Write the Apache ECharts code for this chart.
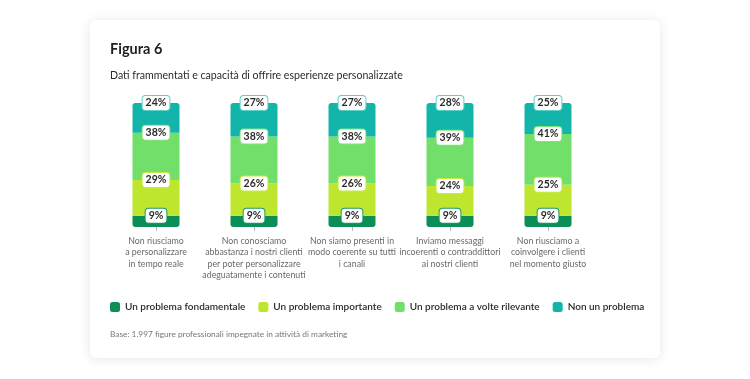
<!DOCTYPE html>
<html><head><meta charset="utf-8">
<script src="https://cdn.jsdelivr.net/npm/echarts@6/dist/echarts.min.js"></script>
<style>html,body{margin:0;padding:0;background:#fff;}#c{width:750px;height:379px;}</style>
</head><body><div id="c"></div>
<script>
const categories = [
  "Non riusciamo\na personalizzare\nin tempo reale",
  "Non conosciamo\nabbastanza i nostri clienti\nper poter personalizzare\nadeguatamente i contenuti",
  "Non siamo presenti in\nmodo coerente su tutti\ni canali",
  "Inviamo messaggi\nincoerenti o contraddittori\nai nostri clienti",
  "Non riusciamo a\ncoinvolgere i clienti\nnel momento giusto"
];
const seriesNames = ["Un problema fondamentale","Un problema importante","Un problema a volte rilevante","Non un problema"];
const fondamentale = [9, 9, 9, 9, 9];
const importante = [29, 26, 26, 24, 25];
const aVolte = [38, 38, 38, 39, 41];
const nonProblema = [24, 27, 27, 28, 25];
const colors = ["#0b8f57","#bee62f","#72df6a","#13b5aa"];
const borderCols = ["#1a9a62","#c6ea4a","#80e37a","#5fd0c8"];
const values = [fondamentale, importante, aVolte, nonProblema];

const FONT = "Lato, sans-serif";
const chart = echarts.init(document.getElementById('c'), null, {renderer:'canvas'});
const series = values.map((v, i) => ({
  name: seriesNames[i], type: 'bar', stack: 'all', data: v, barWidth: 47,
  itemStyle: { color: colors[i], borderRadius: i === 3 ? [3,3,0,0] : (i === 0 ? [0,0,3,3] : 0) },
  label: {
    show: true, position: ['50%', 0], align: 'center', verticalAlign: 'middle',
    formatter: '{c}%', backgroundColor: '#fff', borderColor: borderCols[i], borderWidth: 1,
    borderRadius: 3, padding: [2, 3, 1, 3], fontSize: 10.5, fontWeight: 'bold', color: '#2b2b2b', fontFamily: FONT
  },
  emphasis: { disabled: true }
}));
chart.setOption({
  animation: false,
  graphic: [{ type: 'rect', shape: { x: 90, y: 20, width: 570, height: 338, r: 6 }, z: -10,
    style: { fill: '#fff', shadowBlur: 12, shadowColor: 'rgba(0,0,0,0.10)', shadowOffsetY: 1 } }],
  title: [
    { text: 'Figura 6', left: 110, top: 42, padding: 0, textStyle: { fontSize: 14.5, fontWeight: 'bold', color: '#1f1f1f', fontFamily: FONT } },
    { text: 'Dati frammentati e capacità di offrire esperienze personalizzate', left: 110, top: 70, padding: 0,
      textStyle: { fontSize: 10.6, fontWeight: 400, color: '#2b2b2b', fontFamily: FONT } },
    { text: 'Base: 1.997 figure professionali impegnate in attività di marketing', left: 110, top: 330, padding: 0,
      textStyle: { fontSize: 8.3, fontWeight: 400, color: '#777', fontFamily: FONT } }
  ],
  legend: { left: 105, top: 297, itemWidth: 10, itemHeight: 10, itemGap: 13,
    icon: 'roundRect', data: seriesNames,
    textStyle: { fontSize: 10, fontWeight: 600, color: '#2b2b2b', fontFamily: FONT } },
  grid: { left: 107, right: 153, top: 103, bottom: 152, containLabel: false },
  xAxis: { type: 'category', data: categories,
    axisLine: { show: false }, axisTick: { show: true, alignWithLabel: true, length: 4, lineStyle: { color: '#bbb' } },
    axisLabel: { interval: 0, fontSize: 8.8, color: '#6a6a6a', lineHeight: 11.5, margin: 8, fontFamily: FONT } },
  yAxis: { type: 'value', min: 0, max: 100, show: false, splitLine: { show: false } },
  series: series
});
</script></body></html>
